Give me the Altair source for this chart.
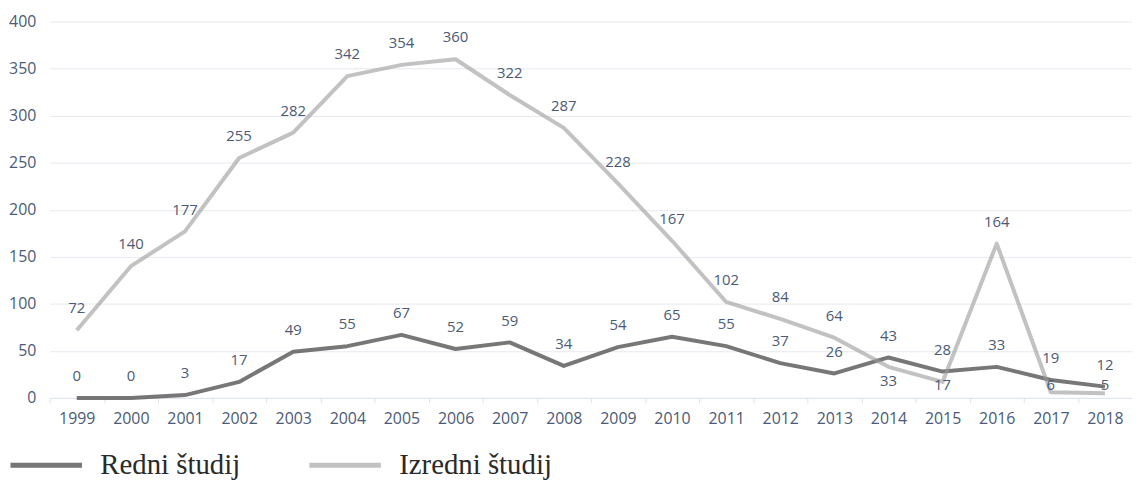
import altair as alt
import pandas as pd

years = [str(y) for y in range(1999, 2019)]
redni = [0, 0, 3, 17, 49, 55, 67, 52, 59, 34, 54, 65, 55, 37, 26, 43, 28, 33, 19, 12]
izredni = [72, 140, 177, 255, 282, 342, 354, 360, 322, 287, 228, 167, 102, 84, 64, 33, 17, 164, 6, 5]
series_names = ["Redni študij", "Izredni študij"]

rows = []
for i, yr in enumerate(years):
    rows.append({"year": yr, "series": series_names[0], "value": redni[i],
                 "below": False})
    rows.append({"year": yr, "series": series_names[1], "value": izredni[i],
                 "below": izredni[i] < redni[i]})
df = pd.DataFrame(rows)

FONT = "Open Sans"
TXT = "#4b5a78"

xenc = alt.X("year:O",
             scale=alt.Scale(type="band", paddingInner=0, paddingOuter=0),
             bandPosition=0.5,
             axis=alt.Axis(title=None, labelAngle=0, tickBand="extent",
                           domainColor="#dfe3ea", tickColor="#dfe3ea",
                           tickSize=5, labelColor=TXT, labelFont=FONT,
                           labelFontSize=16, labelPadding=8, grid=False))
yenc = alt.Y("value:Q",
             scale=alt.Scale(domain=[0, 400], nice=False),
             axis=alt.Axis(title=None, values=list(range(0, 401, 50)),
                           domain=False, ticks=False, labelColor=TXT,
                           labelFont=FONT, labelFontSize=16, labelPadding=14,
                           gridColor="#e6e9f0", gridWidth=1))

base = alt.Chart(df).encode(x=xenc)

lines = base.transform_calculate(fade="datum.series").mark_line(
    strokeWidth=4, strokeJoin="round").encode(
    y=yenc,
    color=alt.Color("series:N",
                    scale=alt.Scale(domain=series_names, range=["#555555", "#9a9a9a"]),
                    sort=series_names,
                    legend=alt.Legend(orient="none", legendX=-42, legendY=408,
                                      direction="horizontal", title=None,
                                      symbolType="stroke", symbolSize=5184,
                                      symbolStrokeWidth=5, symbolOpacity=1,
                                      labelFont="Liberation Serif",
                                      labelFontSize=29, labelColor="#2a2a2a",
                                      labelOffset=16, columnPadding=59,
                                      labelLimit=400)),
    opacity=alt.Opacity("fade:N",
                        scale=alt.Scale(domain=series_names, range=[0.8, 0.6]),
                        legend=None),
    order=alt.Order("series:N", sort="descending"),
)

above = base.mark_text(dy=-22, font=FONT, fontSize=15, color=TXT).encode(
    y=alt.Y("value:Q"), text="value:Q").transform_filter("!datum.below")
below = base.transform_filter("datum.below").transform_calculate(
    ly="max(datum.value - 15, 13.5)"
).mark_text(font=FONT, fontSize=15, color=TXT).encode(
    y=alt.Y("ly:Q"), text="value:Q")

chart = alt.layer(lines, above, below).properties(
    width=1090, height=379,
    autosize=alt.AutoSizeParams(type="none"),
    padding={"left": 42, "top": 12, "right": 0, "bottom": 82},
).configure_view(stroke=None)

chart.save("out.html", embed_options={"renderer": "svg", "actions": False})
